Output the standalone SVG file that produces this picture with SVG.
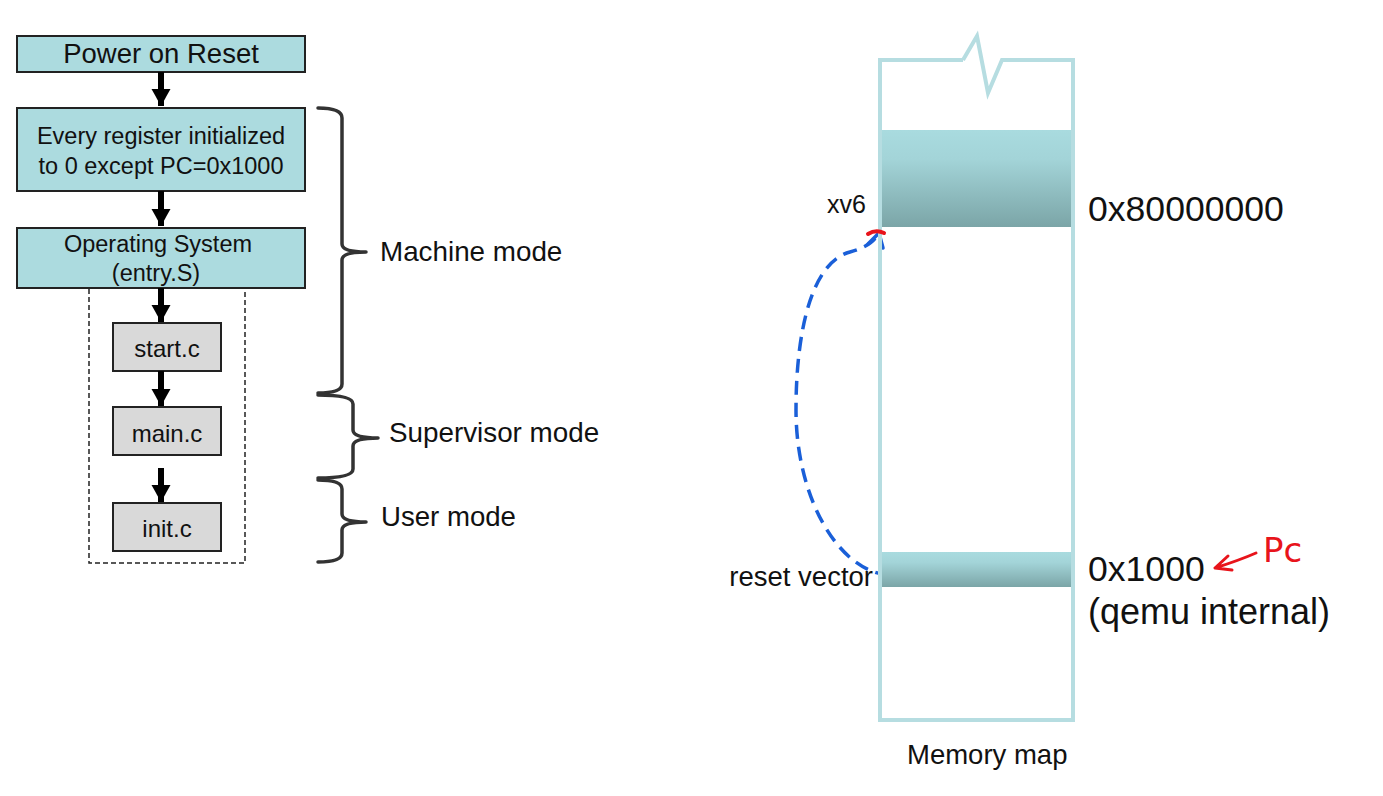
<svg xmlns="http://www.w3.org/2000/svg" width="1383" height="796" viewBox="0 0 1383 796">
<style>
.t{font-family:"Liberation Sans",Arial,sans-serif;fill:#111}
.tb{fill:#acdbdf;stroke:#222;stroke-width:2}
.gb{fill:#d9d9d9;stroke:#222;stroke-width:2}
.br{fill:none;stroke:#333;stroke-width:3.5;stroke-linecap:round;stroke-linejoin:round}
.ar{stroke:#000;stroke-width:6;fill:none}
.mem{fill:none;stroke:#b6dde1;stroke-width:4}
</style>
<defs>
<marker id="ah" markerUnits="userSpaceOnUse" markerWidth="20" markerHeight="20" refX="17" refY="9.5" orient="auto">
<path d="M0,0 L17,9.5 L0,19 Z" fill="#000"/>
</marker>
<linearGradient id="band" x1="0" y1="0" x2="0" y2="1">
<stop offset="0" stop-color="#a9dbdf"/>
<stop offset="0.3" stop-color="#a3d4d8"/>
<stop offset="1" stop-color="#7ba5a7"/>
</linearGradient>
</defs>
<rect width="1383" height="796" fill="#fff"/>

<g id="dashed-group">
<rect x="89" y="288" width="156" height="275" fill="none" stroke="#222" stroke-width="1.5" stroke-dasharray="5,3"/>
</g>

<g id="node-power">
<rect class="tb" x="17" y="36" width="288" height="36"/>
<text class="t" x="161" y="63" font-size="27.5" text-anchor="middle">Power on Reset</text>
</g>
<g id="node-registers">
<rect class="tb" x="17" y="108" width="288" height="83"/>
<text class="t" x="161" y="144" font-size="23.5" text-anchor="middle">Every register initialized</text>
<text class="t" x="161" y="174" font-size="23.5" text-anchor="middle">to 0 except PC=0x1000</text>
</g>
<g id="node-os">
<rect class="tb" x="17" y="228" width="288" height="60"/>
<text class="t" x="158" y="252" font-size="23.5" text-anchor="middle">Operating System</text>
<text class="t" x="156" y="281" font-size="23.5" text-anchor="middle">(entry.S)</text>
</g>
<g id="node-start">
<rect class="gb" x="113" y="323" width="108" height="48"/>
<text class="t" x="167" y="357" font-size="24" text-anchor="middle">start.c</text>
</g>
<g id="node-main">
<rect class="gb" x="113" y="407" width="108" height="48"/>
<text class="t" x="167" y="442" font-size="24" text-anchor="middle">main.c</text>
</g>
<g id="node-init">
<rect class="gb" x="113" y="503" width="108" height="48"/>
<text class="t" x="167" y="537" font-size="24" text-anchor="middle">init.c</text>
</g>

<g id="connectors">
<line class="ar" x1="161" y1="72" x2="161" y2="106" marker-end="url(#ah)"/>
<line class="ar" x1="161" y1="191" x2="161" y2="226" marker-end="url(#ah)"/>
<line class="ar" x1="161" y1="288" x2="161" y2="322" marker-end="url(#ah)"/>
<line class="ar" x1="161" y1="371" x2="161" y2="406" marker-end="url(#ah)"/>
<line class="ar" x1="161" y1="468" x2="161" y2="502" marker-end="url(#ah)"/>
<path d="M889,575 C840,572 796,500 796,410 C796,330 812,262 850,252 C865,248 874,242 878,234" fill="none" stroke="#1a5fd8" stroke-width="3.5" stroke-dasharray="14,8"/>
<path d="M868,244 L879,233 L883,248" fill="none" stroke="#1a5fd8" stroke-width="3.5" stroke-linecap="round"/>
</g>

<g id="brace-machine">
<path class="br" d="M318,108 Q342,108 342,118 L342,244 Q342,252 366,252 Q342,252 342,260 L342,384 Q342,393 318,393"/>
<text class="t" x="380" y="261" font-size="27.8">Machine mode</text>
</g>
<g id="brace-supervisor">
<path class="br" d="M318,395 Q353,395 353,404 L353,430 Q353,438 378,438 Q353,438 353,446 L353,469 Q353,478 318,478"/>
<text class="t" x="389" y="442" font-size="27.8">Supervisor mode</text>
</g>
<g id="brace-user">
<path class="br" d="M318,480 Q342,480 342,489 L342,514 Q342,522 366,522 Q342,522 342,530 L342,553 Q342,562 318,562"/>
<text class="t" x="381" y="526" font-size="27.6">User mode</text>
</g>

<g id="memory-map">
<rect x="880" y="130" width="193" height="97" fill="url(#band)"/>
<rect x="880" y="552" width="193" height="35" fill="url(#band)"/>
<path class="mem" d="M963,60 L880,60 L880,720 L1073,720 L1073,60 L1002,60 L988,93 L977,36 L963,60"/>
<text class="t" x="866" y="213" font-size="25" text-anchor="end">xv6</text>
<text class="t" x="873" y="586" font-size="27.5" text-anchor="end">reset vector</text>
<text class="t" x="1088" y="221" font-size="35.6">0x80000000</text>
<text class="t" x="1088" y="581" font-size="35.6">0x1000</text>
<text class="t" x="1088" y="624" font-size="36">(qemu internal)</text>
<text class="t" x="907" y="764" font-size="27.5">Memory map</text>
</g>

<g id="annotations">
<path d="M868,234 Q876,229 884,233" fill="none" stroke="#e8141b" stroke-width="4" stroke-linecap="round"/>
<path d="M1256,553 Q1240,560 1215,568 M1228,556 L1215,568 L1232,570" fill="none" stroke="#e8141b" stroke-width="3" stroke-linecap="round" stroke-linejoin="round"/>
<text x="1263" y="562" font-family="'DejaVu Sans',sans-serif" font-size="34" fill="#e8141b">Pc</text>
</g>
</svg>
